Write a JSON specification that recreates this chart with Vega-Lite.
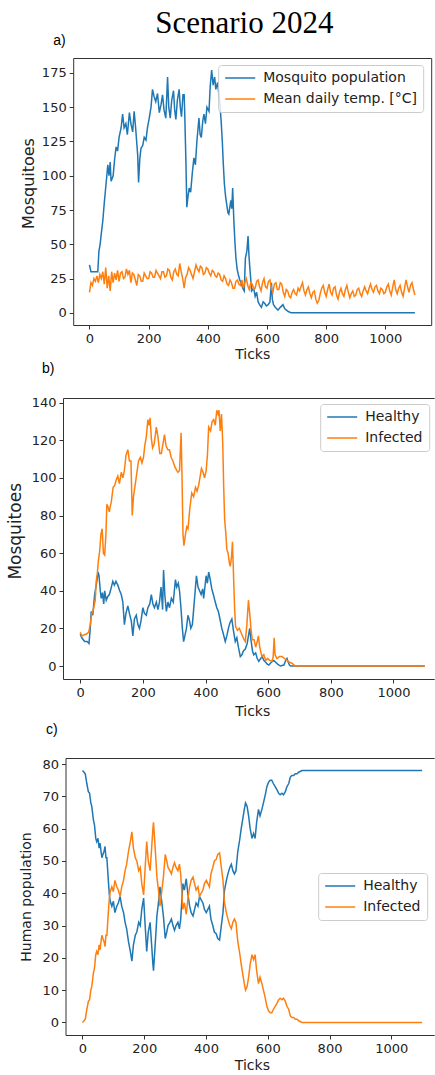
{
"$schema":"https://vega.github.io/schema/vega-lite/v6.json",
"padding":{"left":0,"top":7,"right":0,"bottom":0},
"title":{"text":"Scenario 2024","anchor":"start","frame":"bounds","dx":155,"font":"Liberation Serif","fontSize":31,"fontWeight":"normal","color":"black","baseline":"alphabetic","offset":-29.5},
"spacing":0,
"resolve":{"scale":{"color":"independent","x":"independent","y":"independent"},"legend":{"color":"independent"}},
"config":{"font":"DejaVu Sans","view":{"stroke":null},"axis":{"labelFont":"DejaVu Sans","labelFontSize":13,"labelColor":"#222","tickColor":"#333","tickSize":4,"tickWidth":1,"labelPadding":3,"domain":true,"domainColor":"#333","domainWidth":1,"grid":false,"titleFont":"DejaVu Sans","titleFontWeight":"normal","titleColor":"#222","labelFlush":false,"labelOverlap":false},"title":{"fontWeight":"normal"},"legend":{"orient":"none","title":null,"symbolType":"M-2.5,0H2.5","symbolSize":144,"symbolStrokeWidth":1.5,"symbolOffset":9,"labelOffset":16,"padding":6,"rowPadding":7,"fillColor":"rgba(255,255,255,0.8)","strokeColor":"#cccccc","cornerRadius":3,"labelFont":"DejaVu Sans","labelFontSize":14,"labelColor":"#222"}},
"datasets":{
"a":[
{"tick":0,"value":35,"series":"Mosquito population"},{"tick":5,"value":30,"series":"Mosquito population"},{"tick":28,"value":30,"series":"Mosquito population"},{"tick":32,"value":45,"series":"Mosquito population"},{"tick":36,"value":50,"series":"Mosquito population"},{"tick":40,"value":58,"series":"Mosquito population"},{"tick":45,"value":67,"series":"Mosquito population"},{"tick":50,"value":80,"series":"Mosquito population"},{"tick":56,"value":94,"series":"Mosquito population"},{"tick":62,"value":108,"series":"Mosquito population"},{"tick":66,"value":100,"series":"Mosquito population"},{"tick":70,"value":110,"series":"Mosquito population"},{"tick":73,"value":96,"series":"Mosquito population"},{"tick":80,"value":100,"series":"Mosquito population"},{"tick":85,"value":112,"series":"Mosquito population"},{"tick":90,"value":121,"series":"Mosquito population"},{"tick":95,"value":118,"series":"Mosquito population"},{"tick":100,"value":128,"series":"Mosquito population"},{"tick":107,"value":135,"series":"Mosquito population"},{"tick":112,"value":145,"series":"Mosquito population"},{"tick":117,"value":135,"series":"Mosquito population"},{"tick":123,"value":138,"series":"Mosquito population"},{"tick":128,"value":130,"series":"Mosquito population"},{"tick":135,"value":146,"series":"Mosquito population"},{"tick":140,"value":138,"series":"Mosquito population"},{"tick":146,"value":132,"series":"Mosquito population"},{"tick":151,"value":147,"series":"Mosquito population"},{"tick":156,"value":135,"series":"Mosquito population"},{"tick":163,"value":115,"series":"Mosquito population"},{"tick":166,"value":95,"series":"Mosquito population"},{"tick":170,"value":112,"series":"Mosquito population"},{"tick":174,"value":120,"series":"Mosquito population"},{"tick":180,"value":122,"series":"Mosquito population"},{"tick":185,"value":128,"series":"Mosquito population"},{"tick":191,"value":126,"series":"Mosquito population"},{"tick":196,"value":135,"series":"Mosquito population"},{"tick":202,"value":142,"series":"Mosquito population"},{"tick":208,"value":150,"series":"Mosquito population"},{"tick":213,"value":163,"series":"Mosquito population"},{"tick":218,"value":158,"series":"Mosquito population"},{"tick":224,"value":154,"series":"Mosquito population"},{"tick":230,"value":160,"series":"Mosquito population"},{"tick":236,"value":146,"series":"Mosquito population"},{"tick":242,"value":152,"series":"Mosquito population"},{"tick":247,"value":159,"series":"Mosquito population"},{"tick":252,"value":148,"series":"Mosquito population"},{"tick":258,"value":142,"series":"Mosquito population"},{"tick":264,"value":172,"series":"Mosquito population"},{"tick":268,"value":150,"series":"Mosquito population"},{"tick":273,"value":142,"series":"Mosquito population"},{"tick":278,"value":155,"series":"Mosquito population"},{"tick":284,"value":162,"series":"Mosquito population"},{"tick":288,"value":148,"series":"Mosquito population"},{"tick":292,"value":141,"series":"Mosquito population"},{"tick":297,"value":155,"series":"Mosquito population"},{"tick":303,"value":163,"series":"Mosquito population"},{"tick":307,"value":150,"series":"Mosquito population"},{"tick":311,"value":143,"series":"Mosquito population"},{"tick":316,"value":159,"series":"Mosquito population"},{"tick":320,"value":159,"series":"Mosquito population"},{"tick":322,"value":145,"series":"Mosquito population"},{"tick":326,"value":110,"series":"Mosquito population"},{"tick":329,"value":77,"series":"Mosquito population"},{"tick":333,"value":85,"series":"Mosquito population"},{"tick":337,"value":91,"series":"Mosquito population"},{"tick":342,"value":88,"series":"Mosquito population"},{"tick":348,"value":103,"series":"Mosquito population"},{"tick":353,"value":113,"series":"Mosquito population"},{"tick":358,"value":108,"series":"Mosquito population"},{"tick":363,"value":125,"series":"Mosquito population"},{"tick":370,"value":142,"series":"Mosquito population"},{"tick":374,"value":130,"series":"Mosquito population"},{"tick":378,"value":128,"series":"Mosquito population"},{"tick":383,"value":140,"series":"Mosquito population"},{"tick":387,"value":145,"series":"Mosquito population"},{"tick":392,"value":138,"series":"Mosquito population"},{"tick":397,"value":150,"series":"Mosquito population"},{"tick":404,"value":147,"series":"Mosquito population"},{"tick":408,"value":165,"series":"Mosquito population"},{"tick":413,"value":177,"series":"Mosquito population"},{"tick":418,"value":166,"series":"Mosquito population"},{"tick":423,"value":172,"series":"Mosquito population"},{"tick":427,"value":163,"series":"Mosquito population"},{"tick":433,"value":168,"series":"Mosquito population"},{"tick":437,"value":160,"series":"Mosquito population"},{"tick":441,"value":152,"series":"Mosquito population"},{"tick":445,"value":140,"series":"Mosquito population"},{"tick":449,"value":125,"series":"Mosquito population"},{"tick":452,"value":110,"series":"Mosquito population"},{"tick":456,"value":94,"series":"Mosquito population"},{"tick":460,"value":85,"series":"Mosquito population"},{"tick":464,"value":79,"series":"Mosquito population"},{"tick":468,"value":73,"series":"Mosquito population"},{"tick":471,"value":72,"series":"Mosquito population"},{"tick":475,"value":78,"series":"Mosquito population"},{"tick":478,"value":82,"series":"Mosquito population"},{"tick":481,"value":76,"series":"Mosquito population"},{"tick":484,"value":91,"series":"Mosquito population"},{"tick":488,"value":67,"series":"Mosquito population"},{"tick":492,"value":50,"series":"Mosquito population"},{"tick":495,"value":40,"series":"Mosquito population"},{"tick":499,"value":32,"series":"Mosquito population"},{"tick":503,"value":28,"series":"Mosquito population"},{"tick":508,"value":24,"series":"Mosquito population"},{"tick":514,"value":21,"series":"Mosquito population"},{"tick":518,"value":18,"series":"Mosquito population"},{"tick":523,"value":16,"series":"Mosquito population"},{"tick":527,"value":40,"series":"Mosquito population"},{"tick":532,"value":45,"series":"Mosquito population"},{"tick":536,"value":56,"series":"Mosquito population"},{"tick":539,"value":42,"series":"Mosquito population"},{"tick":542,"value":33,"series":"Mosquito population"},{"tick":548,"value":16,"series":"Mosquito population"},{"tick":555,"value":18,"series":"Mosquito population"},{"tick":560,"value":12,"series":"Mosquito population"},{"tick":565,"value":15,"series":"Mosquito population"},{"tick":570,"value":8,"series":"Mosquito population"},{"tick":575,"value":6,"series":"Mosquito population"},{"tick":581,"value":4,"series":"Mosquito population"},{"tick":587,"value":8,"series":"Mosquito population"},{"tick":592,"value":7,"series":"Mosquito population"},{"tick":598,"value":5,"series":"Mosquito population"},{"tick":604,"value":6,"series":"Mosquito population"},{"tick":610,"value":8,"series":"Mosquito population"},{"tick":615,"value":22,"series":"Mosquito population"},{"tick":618,"value":10,"series":"Mosquito population"},{"tick":622,"value":6,"series":"Mosquito population"},{"tick":628,"value":4,"series":"Mosquito population"},{"tick":637,"value":2,"series":"Mosquito population"},{"tick":645,"value":4,"series":"Mosquito population"},{"tick":654,"value":6,"series":"Mosquito population"},{"tick":660,"value":3,"series":"Mosquito population"},{"tick":666,"value":2,"series":"Mosquito population"},{"tick":672,"value":1,"series":"Mosquito population"},{"tick":682,"value":0,"series":"Mosquito population"},{"tick":1100,"value":0,"series":"Mosquito population"},
{"tick":0,"value":15,"series":"Mean daily temp. [°C]"},{"tick":5,"value":22,"series":"Mean daily temp. [°C]"},{"tick":10,"value":20,"series":"Mean daily temp. [°C]"},{"tick":15,"value":25,"series":"Mean daily temp. [°C]"},{"tick":20,"value":23,"series":"Mean daily temp. [°C]"},{"tick":25,"value":27,"series":"Mean daily temp. [°C]"},{"tick":30,"value":22,"series":"Mean daily temp. [°C]"},{"tick":35,"value":28,"series":"Mean daily temp. [°C]"},{"tick":40,"value":25,"series":"Mean daily temp. [°C]"},{"tick":45,"value":30,"series":"Mean daily temp. [°C]"},{"tick":50,"value":21,"series":"Mean daily temp. [°C]"},{"tick":55,"value":33,"series":"Mean daily temp. [°C]"},{"tick":60,"value":18,"series":"Mean daily temp. [°C]"},{"tick":65,"value":27,"series":"Mean daily temp. [°C]"},{"tick":70,"value":16,"series":"Mean daily temp. [°C]"},{"tick":75,"value":30,"series":"Mean daily temp. [°C]"},{"tick":80,"value":22,"series":"Mean daily temp. [°C]"},{"tick":85,"value":29,"series":"Mean daily temp. [°C]"},{"tick":90,"value":24,"series":"Mean daily temp. [°C]"},{"tick":95,"value":31,"series":"Mean daily temp. [°C]"},{"tick":100,"value":23,"series":"Mean daily temp. [°C]"},{"tick":105,"value":29,"series":"Mean daily temp. [°C]"},{"tick":110,"value":30,"series":"Mean daily temp. [°C]"},{"tick":115,"value":25,"series":"Mean daily temp. [°C]"},{"tick":120,"value":26,"series":"Mean daily temp. [°C]"},{"tick":125,"value":32,"series":"Mean daily temp. [°C]"},{"tick":130,"value":28,"series":"Mean daily temp. [°C]"},{"tick":135,"value":31,"series":"Mean daily temp. [°C]"},{"tick":140,"value":22,"series":"Mean daily temp. [°C]"},{"tick":145,"value":29,"series":"Mean daily temp. [°C]"},{"tick":150,"value":28,"series":"Mean daily temp. [°C]"},{"tick":155,"value":24,"series":"Mean daily temp. [°C]"},{"tick":160,"value":20,"series":"Mean daily temp. [°C]"},{"tick":165,"value":28,"series":"Mean daily temp. [°C]"},{"tick":170,"value":27,"series":"Mean daily temp. [°C]"},{"tick":175,"value":23,"series":"Mean daily temp. [°C]"},{"tick":180,"value":23,"series":"Mean daily temp. [°C]"},{"tick":185,"value":29,"series":"Mean daily temp. [°C]"},{"tick":190,"value":27,"series":"Mean daily temp. [°C]"},{"tick":195,"value":25,"series":"Mean daily temp. [°C]"},{"tick":200,"value":25,"series":"Mean daily temp. [°C]"},{"tick":205,"value":30,"series":"Mean daily temp. [°C]"},{"tick":210,"value":29,"series":"Mean daily temp. [°C]"},{"tick":215,"value":26,"series":"Mean daily temp. [°C]"},{"tick":220,"value":26,"series":"Mean daily temp. [°C]"},{"tick":225,"value":31,"series":"Mean daily temp. [°C]"},{"tick":230,"value":29,"series":"Mean daily temp. [°C]"},{"tick":235,"value":27,"series":"Mean daily temp. [°C]"},{"tick":240,"value":25,"series":"Mean daily temp. [°C]"},{"tick":245,"value":30,"series":"Mean daily temp. [°C]"},{"tick":250,"value":30,"series":"Mean daily temp. [°C]"},{"tick":255,"value":26,"series":"Mean daily temp. [°C]"},{"tick":260,"value":27,"series":"Mean daily temp. [°C]"},{"tick":265,"value":32,"series":"Mean daily temp. [°C]"},{"tick":270,"value":31,"series":"Mean daily temp. [°C]"},{"tick":275,"value":26,"series":"Mean daily temp. [°C]"},{"tick":280,"value":24,"series":"Mean daily temp. [°C]"},{"tick":285,"value":30,"series":"Mean daily temp. [°C]"},{"tick":290,"value":32,"series":"Mean daily temp. [°C]"},{"tick":295,"value":28,"series":"Mean daily temp. [°C]"},{"tick":300,"value":27,"series":"Mean daily temp. [°C]"},{"tick":305,"value":36,"series":"Mean daily temp. [°C]"},{"tick":310,"value":30,"series":"Mean daily temp. [°C]"},{"tick":315,"value":25,"series":"Mean daily temp. [°C]"},{"tick":320,"value":18,"series":"Mean daily temp. [°C]"},{"tick":325,"value":26,"series":"Mean daily temp. [°C]"},{"tick":330,"value":28,"series":"Mean daily temp. [°C]"},{"tick":335,"value":33,"series":"Mean daily temp. [°C]"},{"tick":340,"value":31,"series":"Mean daily temp. [°C]"},{"tick":345,"value":28,"series":"Mean daily temp. [°C]"},{"tick":350,"value":25,"series":"Mean daily temp. [°C]"},{"tick":355,"value":30,"series":"Mean daily temp. [°C]"},{"tick":360,"value":35,"series":"Mean daily temp. [°C]"},{"tick":365,"value":32,"series":"Mean daily temp. [°C]"},{"tick":370,"value":30,"series":"Mean daily temp. [°C]"},{"tick":375,"value":34,"series":"Mean daily temp. [°C]"},{"tick":380,"value":33,"series":"Mean daily temp. [°C]"},{"tick":385,"value":28,"series":"Mean daily temp. [°C]"},{"tick":390,"value":29,"series":"Mean daily temp. [°C]"},{"tick":395,"value":33,"series":"Mean daily temp. [°C]"},{"tick":400,"value":32,"series":"Mean daily temp. [°C]"},{"tick":405,"value":29,"series":"Mean daily temp. [°C]"},{"tick":410,"value":27,"series":"Mean daily temp. [°C]"},{"tick":415,"value":31,"series":"Mean daily temp. [°C]"},{"tick":420,"value":30,"series":"Mean daily temp. [°C]"},{"tick":425,"value":27,"series":"Mean daily temp. [°C]"},{"tick":430,"value":26,"series":"Mean daily temp. [°C]"},{"tick":435,"value":29,"series":"Mean daily temp. [°C]"},{"tick":440,"value":28,"series":"Mean daily temp. [°C]"},{"tick":445,"value":24,"series":"Mean daily temp. [°C]"},{"tick":450,"value":23,"series":"Mean daily temp. [°C]"},{"tick":455,"value":27,"series":"Mean daily temp. [°C]"},{"tick":460,"value":25,"series":"Mean daily temp. [°C]"},{"tick":465,"value":21,"series":"Mean daily temp. [°C]"},{"tick":470,"value":20,"series":"Mean daily temp. [°C]"},{"tick":475,"value":24,"series":"Mean daily temp. [°C]"},{"tick":480,"value":22,"series":"Mean daily temp. [°C]"},{"tick":485,"value":18,"series":"Mean daily temp. [°C]"},{"tick":490,"value":18,"series":"Mean daily temp. [°C]"},{"tick":495,"value":23,"series":"Mean daily temp. [°C]"},{"tick":500,"value":24,"series":"Mean daily temp. [°C]"},{"tick":505,"value":21,"series":"Mean daily temp. [°C]"},{"tick":510,"value":20,"series":"Mean daily temp. [°C]"},{"tick":515,"value":24,"series":"Mean daily temp. [°C]"},{"tick":520,"value":18,"series":"Mean daily temp. [°C]"},{"tick":525,"value":22,"series":"Mean daily temp. [°C]"},{"tick":530,"value":25,"series":"Mean daily temp. [°C]"},{"tick":535,"value":20,"series":"Mean daily temp. [°C]"},{"tick":540,"value":17,"series":"Mean daily temp. [°C]"},{"tick":545,"value":22,"series":"Mean daily temp. [°C]"},{"tick":550,"value":21,"series":"Mean daily temp. [°C]"},{"tick":555,"value":17,"series":"Mean daily temp. [°C]"},{"tick":560,"value":18,"series":"Mean daily temp. [°C]"},{"tick":565,"value":23,"series":"Mean daily temp. [°C]"},{"tick":570,"value":24,"series":"Mean daily temp. [°C]"},{"tick":575,"value":19,"series":"Mean daily temp. [°C]"},{"tick":580,"value":16,"series":"Mean daily temp. [°C]"},{"tick":585,"value":22,"series":"Mean daily temp. [°C]"},{"tick":590,"value":25,"series":"Mean daily temp. [°C]"},{"tick":595,"value":19,"series":"Mean daily temp. [°C]"},{"tick":600,"value":18,"series":"Mean daily temp. [°C]"},{"tick":605,"value":23,"series":"Mean daily temp. [°C]"},{"tick":610,"value":24,"series":"Mean daily temp. [°C]"},{"tick":615,"value":18,"series":"Mean daily temp. [°C]"},{"tick":620,"value":15,"series":"Mean daily temp. [°C]"},{"tick":625,"value":21,"series":"Mean daily temp. [°C]"},{"tick":630,"value":22,"series":"Mean daily temp. [°C]"},{"tick":635,"value":17,"series":"Mean daily temp. [°C]"},{"tick":640,"value":17,"series":"Mean daily temp. [°C]"},{"tick":645,"value":22,"series":"Mean daily temp. [°C]"},{"tick":650,"value":21,"series":"Mean daily temp. [°C]"},{"tick":655,"value":15,"series":"Mean daily temp. [°C]"},{"tick":660,"value":12,"series":"Mean daily temp. [°C]"},{"tick":665,"value":17,"series":"Mean daily temp. [°C]"},{"tick":670,"value":16,"series":"Mean daily temp. [°C]"},{"tick":675,"value":12,"series":"Mean daily temp. [°C]"},{"tick":680,"value":11,"series":"Mean daily temp. [°C]"},{"tick":685,"value":15,"series":"Mean daily temp. [°C]"},{"tick":690,"value":17,"series":"Mean daily temp. [°C]"},{"tick":695,"value":14,"series":"Mean daily temp. [°C]"},{"tick":700,"value":13,"series":"Mean daily temp. [°C]"},{"tick":705,"value":18,"series":"Mean daily temp. [°C]"},{"tick":710,"value":16,"series":"Mean daily temp. [°C]"},{"tick":715,"value":19,"series":"Mean daily temp. [°C]"},{"tick":720,"value":22,"series":"Mean daily temp. [°C]"},{"tick":725,"value":16,"series":"Mean daily temp. [°C]"},{"tick":730,"value":13,"series":"Mean daily temp. [°C]"},{"tick":735,"value":17,"series":"Mean daily temp. [°C]"},{"tick":740,"value":19,"series":"Mean daily temp. [°C]"},{"tick":745,"value":14,"series":"Mean daily temp. [°C]"},{"tick":750,"value":11,"series":"Mean daily temp. [°C]"},{"tick":755,"value":15,"series":"Mean daily temp. [°C]"},{"tick":760,"value":16,"series":"Mean daily temp. [°C]"},{"tick":765,"value":10,"series":"Mean daily temp. [°C]"},{"tick":770,"value":7,"series":"Mean daily temp. [°C]"},{"tick":775,"value":9,"series":"Mean daily temp. [°C]"},{"tick":780,"value":14,"series":"Mean daily temp. [°C]"},{"tick":785,"value":18,"series":"Mean daily temp. [°C]"},{"tick":790,"value":20,"series":"Mean daily temp. [°C]"},{"tick":795,"value":15,"series":"Mean daily temp. [°C]"},{"tick":800,"value":12,"series":"Mean daily temp. [°C]"},{"tick":805,"value":17,"series":"Mean daily temp. [°C]"},{"tick":810,"value":21,"series":"Mean daily temp. [°C]"},{"tick":815,"value":15,"series":"Mean daily temp. [°C]"},{"tick":820,"value":13,"series":"Mean daily temp. [°C]"},{"tick":825,"value":18,"series":"Mean daily temp. [°C]"},{"tick":830,"value":19,"series":"Mean daily temp. [°C]"},{"tick":835,"value":13,"series":"Mean daily temp. [°C]"},{"tick":840,"value":10,"series":"Mean daily temp. [°C]"},{"tick":845,"value":15,"series":"Mean daily temp. [°C]"},{"tick":850,"value":18,"series":"Mean daily temp. [°C]"},{"tick":855,"value":14,"series":"Mean daily temp. [°C]"},{"tick":860,"value":12,"series":"Mean daily temp. [°C]"},{"tick":865,"value":17,"series":"Mean daily temp. [°C]"},{"tick":870,"value":20,"series":"Mean daily temp. [°C]"},{"tick":875,"value":15,"series":"Mean daily temp. [°C]"},{"tick":880,"value":11,"series":"Mean daily temp. [°C]"},{"tick":885,"value":14,"series":"Mean daily temp. [°C]"},{"tick":890,"value":16,"series":"Mean daily temp. [°C]"},{"tick":895,"value":12,"series":"Mean daily temp. [°C]"},{"tick":900,"value":13,"series":"Mean daily temp. [°C]"},{"tick":905,"value":17,"series":"Mean daily temp. [°C]"},{"tick":910,"value":18,"series":"Mean daily temp. [°C]"},{"tick":915,"value":14,"series":"Mean daily temp. [°C]"},{"tick":920,"value":12,"series":"Mean daily temp. [°C]"},{"tick":925,"value":16,"series":"Mean daily temp. [°C]"},{"tick":930,"value":19,"series":"Mean daily temp. [°C]"},{"tick":935,"value":16,"series":"Mean daily temp. [°C]"},{"tick":940,"value":14,"series":"Mean daily temp. [°C]"},{"tick":945,"value":18,"series":"Mean daily temp. [°C]"},{"tick":950,"value":21,"series":"Mean daily temp. [°C]"},{"tick":955,"value":17,"series":"Mean daily temp. [°C]"},{"tick":960,"value":15,"series":"Mean daily temp. [°C]"},{"tick":965,"value":19,"series":"Mean daily temp. [°C]"},{"tick":970,"value":20,"series":"Mean daily temp. [°C]"},{"tick":975,"value":16,"series":"Mean daily temp. [°C]"},{"tick":980,"value":14,"series":"Mean daily temp. [°C]"},{"tick":985,"value":18,"series":"Mean daily temp. [°C]"},{"tick":990,"value":17,"series":"Mean daily temp. [°C]"},{"tick":995,"value":14,"series":"Mean daily temp. [°C]"},{"tick":1000,"value":15,"series":"Mean daily temp. [°C]"},{"tick":1005,"value":19,"series":"Mean daily temp. [°C]"},{"tick":1010,"value":21,"series":"Mean daily temp. [°C]"},{"tick":1015,"value":16,"series":"Mean daily temp. [°C]"},{"tick":1020,"value":13,"series":"Mean daily temp. [°C]"},{"tick":1025,"value":19,"series":"Mean daily temp. [°C]"},{"tick":1030,"value":24,"series":"Mean daily temp. [°C]"},{"tick":1035,"value":17,"series":"Mean daily temp. [°C]"},{"tick":1040,"value":14,"series":"Mean daily temp. [°C]"},{"tick":1045,"value":18,"series":"Mean daily temp. [°C]"},{"tick":1050,"value":20,"series":"Mean daily temp. [°C]"},{"tick":1055,"value":15,"series":"Mean daily temp. [°C]"},{"tick":1060,"value":12,"series":"Mean daily temp. [°C]"},{"tick":1065,"value":18,"series":"Mean daily temp. [°C]"},{"tick":1070,"value":24,"series":"Mean daily temp. [°C]"},{"tick":1075,"value":19,"series":"Mean daily temp. [°C]"},{"tick":1080,"value":15,"series":"Mean daily temp. [°C]"},{"tick":1085,"value":20,"series":"Mean daily temp. [°C]"},{"tick":1090,"value":22,"series":"Mean daily temp. [°C]"},{"tick":1095,"value":17,"series":"Mean daily temp. [°C]"},{"tick":1100,"value":13,"series":"Mean daily temp. [°C]"}
],
"b":[
{"tick":0,"value":17,"series":"Healthy"},{"tick":5,"value":15,"series":"Healthy"},{"tick":14,"value":13,"series":"Healthy"},{"tick":22,"value":13,"series":"Healthy"},{"tick":28,"value":12,"series":"Healthy"},{"tick":32,"value":20,"series":"Healthy"},{"tick":35,"value":29,"series":"Healthy"},{"tick":40,"value":27,"series":"Healthy"},{"tick":46,"value":38,"series":"Healthy"},{"tick":50,"value":42,"series":"Healthy"},{"tick":53,"value":45,"series":"Healthy"},{"tick":57,"value":50,"series":"Healthy"},{"tick":60,"value":48,"series":"Healthy"},{"tick":64,"value":40,"series":"Healthy"},{"tick":67,"value":36,"series":"Healthy"},{"tick":71,"value":39,"series":"Healthy"},{"tick":75,"value":33,"series":"Healthy"},{"tick":78,"value":40,"series":"Healthy"},{"tick":83,"value":35,"series":"Healthy"},{"tick":88,"value":37,"series":"Healthy"},{"tick":93,"value":38,"series":"Healthy"},{"tick":98,"value":41,"series":"Healthy"},{"tick":104,"value":45,"series":"Healthy"},{"tick":109,"value":43,"series":"Healthy"},{"tick":114,"value":45,"series":"Healthy"},{"tick":120,"value":43,"series":"Healthy"},{"tick":126,"value":40,"series":"Healthy"},{"tick":131,"value":38,"series":"Healthy"},{"tick":136,"value":34,"series":"Healthy"},{"tick":141,"value":22,"series":"Healthy"},{"tick":146,"value":28,"series":"Healthy"},{"tick":152,"value":32,"series":"Healthy"},{"tick":157,"value":28,"series":"Healthy"},{"tick":163,"value":24,"series":"Healthy"},{"tick":168,"value":16,"series":"Healthy"},{"tick":173,"value":25,"series":"Healthy"},{"tick":179,"value":27,"series":"Healthy"},{"tick":184,"value":22,"series":"Healthy"},{"tick":189,"value":20,"series":"Healthy"},{"tick":194,"value":24,"series":"Healthy"},{"tick":200,"value":31,"series":"Healthy"},{"tick":205,"value":28,"series":"Healthy"},{"tick":211,"value":27,"series":"Healthy"},{"tick":216,"value":31,"series":"Healthy"},{"tick":222,"value":33,"series":"Healthy"},{"tick":227,"value":38,"series":"Healthy"},{"tick":232,"value":33,"series":"Healthy"},{"tick":237,"value":31,"series":"Healthy"},{"tick":243,"value":34,"series":"Healthy"},{"tick":248,"value":30,"series":"Healthy"},{"tick":253,"value":34,"series":"Healthy"},{"tick":258,"value":42,"series":"Healthy"},{"tick":263,"value":30,"series":"Healthy"},{"tick":266,"value":51,"series":"Healthy"},{"tick":270,"value":38,"series":"Healthy"},{"tick":275,"value":29,"series":"Healthy"},{"tick":280,"value":34,"series":"Healthy"},{"tick":285,"value":31,"series":"Healthy"},{"tick":291,"value":36,"series":"Healthy"},{"tick":297,"value":34,"series":"Healthy"},{"tick":304,"value":46,"series":"Healthy"},{"tick":308,"value":42,"series":"Healthy"},{"tick":313,"value":44,"series":"Healthy"},{"tick":317,"value":40,"series":"Healthy"},{"tick":322,"value":30,"series":"Healthy"},{"tick":326,"value":20,"series":"Healthy"},{"tick":330,"value":13,"series":"Healthy"},{"tick":334,"value":16,"series":"Healthy"},{"tick":339,"value":20,"series":"Healthy"},{"tick":344,"value":27,"series":"Healthy"},{"tick":349,"value":24,"series":"Healthy"},{"tick":353,"value":20,"series":"Healthy"},{"tick":358,"value":22,"series":"Healthy"},{"tick":362,"value":30,"series":"Healthy"},{"tick":367,"value":40,"series":"Healthy"},{"tick":371,"value":48,"series":"Healthy"},{"tick":376,"value":42,"series":"Healthy"},{"tick":381,"value":40,"series":"Healthy"},{"tick":386,"value":38,"series":"Healthy"},{"tick":391,"value":41,"series":"Healthy"},{"tick":394,"value":36,"series":"Healthy"},{"tick":398,"value":42,"series":"Healthy"},{"tick":402,"value":48,"series":"Healthy"},{"tick":406,"value":44,"series":"Healthy"},{"tick":410,"value":50,"series":"Healthy"},{"tick":415,"value":46,"series":"Healthy"},{"tick":420,"value":41,"series":"Healthy"},{"tick":425,"value":38,"series":"Healthy"},{"tick":431,"value":34,"series":"Healthy"},{"tick":436,"value":31,"series":"Healthy"},{"tick":441,"value":29,"series":"Healthy"},{"tick":446,"value":25,"series":"Healthy"},{"tick":452,"value":20,"series":"Healthy"},{"tick":457,"value":17,"series":"Healthy"},{"tick":463,"value":13,"series":"Healthy"},{"tick":468,"value":16,"series":"Healthy"},{"tick":473,"value":20,"series":"Healthy"},{"tick":478,"value":23,"series":"Healthy"},{"tick":484,"value":25,"series":"Healthy"},{"tick":489,"value":19,"series":"Healthy"},{"tick":495,"value":13,"series":"Healthy"},{"tick":500,"value":15,"series":"Healthy"},{"tick":505,"value":10,"series":"Healthy"},{"tick":511,"value":5,"series":"Healthy"},{"tick":516,"value":6,"series":"Healthy"},{"tick":521,"value":8,"series":"Healthy"},{"tick":527,"value":9,"series":"Healthy"},{"tick":533,"value":12,"series":"Healthy"},{"tick":537,"value":16,"series":"Healthy"},{"tick":541,"value":20,"series":"Healthy"},{"tick":545,"value":14,"series":"Healthy"},{"tick":550,"value":8,"series":"Healthy"},{"tick":554,"value":6,"series":"Healthy"},{"tick":560,"value":7,"series":"Healthy"},{"tick":565,"value":4,"series":"Healthy"},{"tick":570,"value":2.5,"series":"Healthy"},{"tick":576,"value":4,"series":"Healthy"},{"tick":581,"value":5,"series":"Healthy"},{"tick":586,"value":3,"series":"Healthy"},{"tick":592,"value":2,"series":"Healthy"},{"tick":597,"value":1,"series":"Healthy"},{"tick":602,"value":0.5,"series":"Healthy"},{"tick":610,"value":2,"series":"Healthy"},{"tick":618,"value":3,"series":"Healthy"},{"tick":624,"value":2,"series":"Healthy"},{"tick":630,"value":1,"series":"Healthy"},{"tick":639,"value":0,"series":"Healthy"},{"tick":650,"value":0.5,"series":"Healthy"},{"tick":656,"value":3,"series":"Healthy"},{"tick":660,"value":4,"series":"Healthy"},{"tick":664,"value":2,"series":"Healthy"},{"tick":668,"value":0.5,"series":"Healthy"},{"tick":672,"value":0,"series":"Healthy"},{"tick":1100,"value":0,"series":"Healthy"},
{"tick":0,"value":18,"series":"Infected"},{"tick":5,"value":16,"series":"Infected"},{"tick":11,"value":16.5,"series":"Infected"},{"tick":20,"value":17,"series":"Infected"},{"tick":27,"value":18,"series":"Infected"},{"tick":32,"value":22,"series":"Infected"},{"tick":37,"value":28,"series":"Infected"},{"tick":42,"value":30,"series":"Infected"},{"tick":48,"value":35,"series":"Infected"},{"tick":51,"value":45,"series":"Infected"},{"tick":55,"value":50,"series":"Infected"},{"tick":58,"value":56,"series":"Infected"},{"tick":62,"value":61,"series":"Infected"},{"tick":66,"value":70,"series":"Infected"},{"tick":70,"value":73,"series":"Infected"},{"tick":74,"value":60,"series":"Infected"},{"tick":78,"value":59,"series":"Infected"},{"tick":82,"value":70,"series":"Infected"},{"tick":85,"value":86,"series":"Infected"},{"tick":88,"value":85,"series":"Infected"},{"tick":93,"value":82,"series":"Infected"},{"tick":96,"value":85,"series":"Infected"},{"tick":99,"value":87,"series":"Infected"},{"tick":105,"value":95,"series":"Infected"},{"tick":110,"value":96,"series":"Infected"},{"tick":115,"value":99,"series":"Infected"},{"tick":120,"value":101,"series":"Infected"},{"tick":125,"value":97,"series":"Infected"},{"tick":131,"value":103,"series":"Infected"},{"tick":136,"value":100,"series":"Infected"},{"tick":141,"value":104,"series":"Infected"},{"tick":146,"value":112,"series":"Infected"},{"tick":152,"value":115,"series":"Infected"},{"tick":157,"value":109,"series":"Infected"},{"tick":162,"value":109,"series":"Infected"},{"tick":166,"value":80,"series":"Infected"},{"tick":170,"value":90,"series":"Infected"},{"tick":176,"value":97,"series":"Infected"},{"tick":181,"value":103,"series":"Infected"},{"tick":186,"value":109,"series":"Infected"},{"tick":192,"value":111,"series":"Infected"},{"tick":197,"value":108,"series":"Infected"},{"tick":202,"value":111,"series":"Infected"},{"tick":206,"value":117,"series":"Infected"},{"tick":211,"value":122,"series":"Infected"},{"tick":216,"value":131,"series":"Infected"},{"tick":220,"value":128,"series":"Infected"},{"tick":223,"value":132,"series":"Infected"},{"tick":227,"value":121,"series":"Infected"},{"tick":231,"value":116,"series":"Infected"},{"tick":236,"value":118,"series":"Infected"},{"tick":243,"value":127,"series":"Infected"},{"tick":248,"value":122,"series":"Infected"},{"tick":254,"value":113,"series":"Infected"},{"tick":259,"value":113,"series":"Infected"},{"tick":264,"value":118,"series":"Infected"},{"tick":269,"value":123,"series":"Infected"},{"tick":274,"value":117,"series":"Infected"},{"tick":280,"value":115,"series":"Infected"},{"tick":285,"value":115,"series":"Infected"},{"tick":290,"value":111,"series":"Infected"},{"tick":296,"value":109,"series":"Infected"},{"tick":302,"value":106,"series":"Infected"},{"tick":308,"value":104,"series":"Infected"},{"tick":312,"value":103,"series":"Infected"},{"tick":317,"value":104,"series":"Infected"},{"tick":322,"value":124,"series":"Infected"},{"tick":325,"value":100,"series":"Infected"},{"tick":328,"value":70,"series":"Infected"},{"tick":331,"value":64,"series":"Infected"},{"tick":336,"value":70,"series":"Infected"},{"tick":340,"value":74,"series":"Infected"},{"tick":344,"value":73,"series":"Infected"},{"tick":350,"value":84,"series":"Infected"},{"tick":356,"value":92,"series":"Infected"},{"tick":362,"value":90,"series":"Infected"},{"tick":368,"value":95,"series":"Infected"},{"tick":373,"value":93,"series":"Infected"},{"tick":378,"value":96,"series":"Infected"},{"tick":382,"value":100,"series":"Infected"},{"tick":387,"value":105,"series":"Infected"},{"tick":392,"value":103,"series":"Infected"},{"tick":397,"value":100,"series":"Infected"},{"tick":402,"value":104,"series":"Infected"},{"tick":406,"value":112,"series":"Infected"},{"tick":410,"value":127,"series":"Infected"},{"tick":416,"value":125,"series":"Infected"},{"tick":421,"value":130,"series":"Infected"},{"tick":426,"value":131,"series":"Infected"},{"tick":431,"value":128,"series":"Infected"},{"tick":436,"value":136,"series":"Infected"},{"tick":440,"value":134,"series":"Infected"},{"tick":443,"value":136,"series":"Infected"},{"tick":447,"value":125,"series":"Infected"},{"tick":451,"value":134,"series":"Infected"},{"tick":455,"value":118,"series":"Infected"},{"tick":458,"value":95,"series":"Infected"},{"tick":461,"value":78,"series":"Infected"},{"tick":465,"value":70,"series":"Infected"},{"tick":468,"value":62,"series":"Infected"},{"tick":472,"value":60,"series":"Infected"},{"tick":476,"value":55,"series":"Infected"},{"tick":479,"value":53,"series":"Infected"},{"tick":483,"value":58,"series":"Infected"},{"tick":486,"value":66,"series":"Infected"},{"tick":490,"value":45,"series":"Infected"},{"tick":493,"value":30,"series":"Infected"},{"tick":496,"value":21,"series":"Infected"},{"tick":502,"value":19,"series":"Infected"},{"tick":508,"value":20,"series":"Infected"},{"tick":513,"value":18,"series":"Infected"},{"tick":518,"value":16,"series":"Infected"},{"tick":523,"value":14,"series":"Infected"},{"tick":527,"value":13,"series":"Infected"},{"tick":532,"value":22,"series":"Infected"},{"tick":537,"value":35,"series":"Infected"},{"tick":541,"value":28,"series":"Infected"},{"tick":545,"value":20,"series":"Infected"},{"tick":549,"value":14,"series":"Infected"},{"tick":555,"value":14,"series":"Infected"},{"tick":560,"value":10,"series":"Infected"},{"tick":565,"value":13,"series":"Infected"},{"tick":569,"value":16,"series":"Infected"},{"tick":573,"value":10,"series":"Infected"},{"tick":580,"value":5,"series":"Infected"},{"tick":586,"value":6,"series":"Infected"},{"tick":592,"value":3,"series":"Infected"},{"tick":598,"value":4,"series":"Infected"},{"tick":605,"value":3,"series":"Infected"},{"tick":612,"value":2.5,"series":"Infected"},{"tick":616,"value":5,"series":"Infected"},{"tick":619,"value":15,"series":"Infected"},{"tick":622,"value":6,"series":"Infected"},{"tick":628,"value":4,"series":"Infected"},{"tick":636,"value":5,"series":"Infected"},{"tick":644,"value":5,"series":"Infected"},{"tick":652,"value":4,"series":"Infected"},{"tick":660,"value":3,"series":"Infected"},{"tick":668,"value":2,"series":"Infected"},{"tick":676,"value":1.5,"series":"Infected"},{"tick":686,"value":0,"series":"Infected"},{"tick":1100,"value":0,"series":"Infected"}
],
"c":[
{"tick":0,"value":78,"series":"Healthy"},{"tick":5,"value":77.5,"series":"Healthy"},{"tick":9,"value":77,"series":"Healthy"},{"tick":14,"value":74,"series":"Healthy"},{"tick":19,"value":71.5,"series":"Healthy"},{"tick":23,"value":71,"series":"Healthy"},{"tick":27,"value":68,"series":"Healthy"},{"tick":30,"value":67,"series":"Healthy"},{"tick":35,"value":63,"series":"Healthy"},{"tick":39,"value":61,"series":"Healthy"},{"tick":43,"value":57,"series":"Healthy"},{"tick":46,"value":56,"series":"Healthy"},{"tick":50,"value":57,"series":"Healthy"},{"tick":54,"value":54,"series":"Healthy"},{"tick":57,"value":55.5,"series":"Healthy"},{"tick":60,"value":53,"series":"Healthy"},{"tick":63,"value":51,"series":"Healthy"},{"tick":66,"value":52,"series":"Healthy"},{"tick":70,"value":53,"series":"Healthy"},{"tick":73,"value":54.5,"series":"Healthy"},{"tick":76,"value":51,"series":"Healthy"},{"tick":79,"value":51,"series":"Healthy"},{"tick":83,"value":45,"series":"Healthy"},{"tick":87,"value":39.5,"series":"Healthy"},{"tick":90,"value":37.5,"series":"Healthy"},{"tick":95,"value":36,"series":"Healthy"},{"tick":100,"value":37.5,"series":"Healthy"},{"tick":105,"value":34,"series":"Healthy"},{"tick":111,"value":36,"series":"Healthy"},{"tick":116,"value":37,"series":"Healthy"},{"tick":122,"value":39,"series":"Healthy"},{"tick":127,"value":36,"series":"Healthy"},{"tick":133,"value":34,"series":"Healthy"},{"tick":138,"value":31,"series":"Healthy"},{"tick":143,"value":29,"series":"Healthy"},{"tick":149,"value":25,"series":"Healthy"},{"tick":155,"value":22,"series":"Healthy"},{"tick":160,"value":19,"series":"Healthy"},{"tick":165,"value":24,"series":"Healthy"},{"tick":171,"value":27,"series":"Healthy"},{"tick":176,"value":28,"series":"Healthy"},{"tick":182,"value":31,"series":"Healthy"},{"tick":187,"value":30,"series":"Healthy"},{"tick":192,"value":35,"series":"Healthy"},{"tick":198,"value":38.5,"series":"Healthy"},{"tick":203,"value":30,"series":"Healthy"},{"tick":208,"value":22,"series":"Healthy"},{"tick":213,"value":28,"series":"Healthy"},{"tick":219,"value":31,"series":"Healthy"},{"tick":224,"value":24,"series":"Healthy"},{"tick":228,"value":18,"series":"Healthy"},{"tick":230,"value":16,"series":"Healthy"},{"tick":234,"value":22,"series":"Healthy"},{"tick":238,"value":28,"series":"Healthy"},{"tick":241,"value":33,"series":"Healthy"},{"tick":246,"value":37,"series":"Healthy"},{"tick":251,"value":42,"series":"Healthy"},{"tick":256,"value":38,"series":"Healthy"},{"tick":262,"value":33,"series":"Healthy"},{"tick":268,"value":26,"series":"Healthy"},{"tick":273,"value":28,"series":"Healthy"},{"tick":277,"value":30,"series":"Healthy"},{"tick":283,"value":31,"series":"Healthy"},{"tick":288,"value":32,"series":"Healthy"},{"tick":293,"value":30,"series":"Healthy"},{"tick":298,"value":28.5,"series":"Healthy"},{"tick":303,"value":30,"series":"Healthy"},{"tick":309,"value":31,"series":"Healthy"},{"tick":314,"value":29,"series":"Healthy"},{"tick":318,"value":32,"series":"Healthy"},{"tick":322,"value":38,"series":"Healthy"},{"tick":325,"value":43,"series":"Healthy"},{"tick":330,"value":41,"series":"Healthy"},{"tick":336,"value":44.5,"series":"Healthy"},{"tick":341,"value":40,"series":"Healthy"},{"tick":347,"value":36,"series":"Healthy"},{"tick":352,"value":34,"series":"Healthy"},{"tick":358,"value":33,"series":"Healthy"},{"tick":363,"value":35,"series":"Healthy"},{"tick":368,"value":37,"series":"Healthy"},{"tick":374,"value":36,"series":"Healthy"},{"tick":379,"value":39,"series":"Healthy"},{"tick":384,"value":38,"series":"Healthy"},{"tick":390,"value":37,"series":"Healthy"},{"tick":395,"value":35,"series":"Healthy"},{"tick":401,"value":34,"series":"Healthy"},{"tick":406,"value":35,"series":"Healthy"},{"tick":411,"value":36,"series":"Healthy"},{"tick":416,"value":32,"series":"Healthy"},{"tick":422,"value":30,"series":"Healthy"},{"tick":427,"value":28,"series":"Healthy"},{"tick":433,"value":27.5,"series":"Healthy"},{"tick":438,"value":26,"series":"Healthy"},{"tick":444,"value":25.5,"series":"Healthy"},{"tick":449,"value":29.5,"series":"Healthy"},{"tick":455,"value":34,"series":"Healthy"},{"tick":460,"value":41,"series":"Healthy"},{"tick":466,"value":44,"series":"Healthy"},{"tick":471,"value":46,"series":"Healthy"},{"tick":477,"value":48,"series":"Healthy"},{"tick":482,"value":49,"series":"Healthy"},{"tick":487,"value":47,"series":"Healthy"},{"tick":492,"value":46,"series":"Healthy"},{"tick":497,"value":47,"series":"Healthy"},{"tick":503,"value":53,"series":"Healthy"},{"tick":509,"value":56.5,"series":"Healthy"},{"tick":514,"value":60,"series":"Healthy"},{"tick":519,"value":63,"series":"Healthy"},{"tick":524,"value":66,"series":"Healthy"},{"tick":528,"value":68,"series":"Healthy"},{"tick":533,"value":67,"series":"Healthy"},{"tick":538,"value":64,"series":"Healthy"},{"tick":543,"value":60,"series":"Healthy"},{"tick":549,"value":57,"series":"Healthy"},{"tick":554,"value":58.5,"series":"Healthy"},{"tick":559,"value":57,"series":"Healthy"},{"tick":564,"value":62,"series":"Healthy"},{"tick":570,"value":66,"series":"Healthy"},{"tick":575,"value":64,"series":"Healthy"},{"tick":581,"value":66,"series":"Healthy"},{"tick":586,"value":68,"series":"Healthy"},{"tick":592,"value":70.5,"series":"Healthy"},{"tick":597,"value":73,"series":"Healthy"},{"tick":603,"value":74.5,"series":"Healthy"},{"tick":608,"value":75,"series":"Healthy"},{"tick":613,"value":75,"series":"Healthy"},{"tick":618,"value":74,"series":"Healthy"},{"tick":624,"value":73,"series":"Healthy"},{"tick":630,"value":72,"series":"Healthy"},{"tick":635,"value":71,"series":"Healthy"},{"tick":640,"value":70.5,"series":"Healthy"},{"tick":646,"value":71,"series":"Healthy"},{"tick":651,"value":70.5,"series":"Healthy"},{"tick":657,"value":71.5,"series":"Healthy"},{"tick":662,"value":73,"series":"Healthy"},{"tick":668,"value":74,"series":"Healthy"},{"tick":673,"value":76,"series":"Healthy"},{"tick":678,"value":76.5,"series":"Healthy"},{"tick":684,"value":76.5,"series":"Healthy"},{"tick":689,"value":77,"series":"Healthy"},{"tick":695,"value":77,"series":"Healthy"},{"tick":700,"value":77.5,"series":"Healthy"},{"tick":711,"value":78,"series":"Healthy"},{"tick":1100,"value":78,"series":"Healthy"},
{"tick":0,"value":0,"series":"Infected"},{"tick":5,"value":0.5,"series":"Infected"},{"tick":9,"value":1,"series":"Infected"},{"tick":14,"value":4,"series":"Infected"},{"tick":19,"value":6.5,"series":"Infected"},{"tick":23,"value":7,"series":"Infected"},{"tick":27,"value":10,"series":"Infected"},{"tick":30,"value":11,"series":"Infected"},{"tick":35,"value":15,"series":"Infected"},{"tick":39,"value":17,"series":"Infected"},{"tick":43,"value":21,"series":"Infected"},{"tick":46,"value":22,"series":"Infected"},{"tick":50,"value":21,"series":"Infected"},{"tick":54,"value":24,"series":"Infected"},{"tick":57,"value":22.5,"series":"Infected"},{"tick":60,"value":25,"series":"Infected"},{"tick":63,"value":27,"series":"Infected"},{"tick":66,"value":26,"series":"Infected"},{"tick":70,"value":25,"series":"Infected"},{"tick":73,"value":23.5,"series":"Infected"},{"tick":76,"value":27,"series":"Infected"},{"tick":79,"value":27,"series":"Infected"},{"tick":83,"value":33,"series":"Infected"},{"tick":87,"value":38.5,"series":"Infected"},{"tick":90,"value":40.5,"series":"Infected"},{"tick":95,"value":42,"series":"Infected"},{"tick":100,"value":40.5,"series":"Infected"},{"tick":105,"value":44,"series":"Infected"},{"tick":111,"value":42,"series":"Infected"},{"tick":116,"value":41,"series":"Infected"},{"tick":122,"value":39,"series":"Infected"},{"tick":127,"value":42,"series":"Infected"},{"tick":133,"value":44,"series":"Infected"},{"tick":138,"value":47,"series":"Infected"},{"tick":143,"value":49,"series":"Infected"},{"tick":149,"value":53,"series":"Infected"},{"tick":155,"value":56,"series":"Infected"},{"tick":160,"value":59,"series":"Infected"},{"tick":165,"value":54,"series":"Infected"},{"tick":171,"value":51,"series":"Infected"},{"tick":176,"value":50,"series":"Infected"},{"tick":182,"value":47,"series":"Infected"},{"tick":187,"value":48,"series":"Infected"},{"tick":192,"value":43,"series":"Infected"},{"tick":198,"value":39.5,"series":"Infected"},{"tick":203,"value":48,"series":"Infected"},{"tick":208,"value":56,"series":"Infected"},{"tick":213,"value":50,"series":"Infected"},{"tick":219,"value":47,"series":"Infected"},{"tick":224,"value":54,"series":"Infected"},{"tick":228,"value":60,"series":"Infected"},{"tick":230,"value":62,"series":"Infected"},{"tick":234,"value":56,"series":"Infected"},{"tick":238,"value":50,"series":"Infected"},{"tick":241,"value":45,"series":"Infected"},{"tick":246,"value":41,"series":"Infected"},{"tick":251,"value":36,"series":"Infected"},{"tick":256,"value":40,"series":"Infected"},{"tick":262,"value":45,"series":"Infected"},{"tick":268,"value":52,"series":"Infected"},{"tick":273,"value":50,"series":"Infected"},{"tick":277,"value":48,"series":"Infected"},{"tick":283,"value":47,"series":"Infected"},{"tick":288,"value":46,"series":"Infected"},{"tick":293,"value":48,"series":"Infected"},{"tick":298,"value":49.5,"series":"Infected"},{"tick":303,"value":48,"series":"Infected"},{"tick":309,"value":47,"series":"Infected"},{"tick":314,"value":49,"series":"Infected"},{"tick":318,"value":46,"series":"Infected"},{"tick":322,"value":40,"series":"Infected"},{"tick":325,"value":35,"series":"Infected"},{"tick":330,"value":37,"series":"Infected"},{"tick":336,"value":33.5,"series":"Infected"},{"tick":341,"value":38,"series":"Infected"},{"tick":347,"value":42,"series":"Infected"},{"tick":352,"value":44,"series":"Infected"},{"tick":358,"value":45,"series":"Infected"},{"tick":363,"value":43,"series":"Infected"},{"tick":368,"value":41,"series":"Infected"},{"tick":374,"value":42,"series":"Infected"},{"tick":379,"value":39,"series":"Infected"},{"tick":384,"value":40,"series":"Infected"},{"tick":390,"value":41,"series":"Infected"},{"tick":395,"value":43,"series":"Infected"},{"tick":401,"value":44,"series":"Infected"},{"tick":406,"value":43,"series":"Infected"},{"tick":411,"value":42,"series":"Infected"},{"tick":416,"value":46,"series":"Infected"},{"tick":422,"value":48,"series":"Infected"},{"tick":427,"value":50,"series":"Infected"},{"tick":433,"value":50.5,"series":"Infected"},{"tick":438,"value":52,"series":"Infected"},{"tick":444,"value":52.5,"series":"Infected"},{"tick":449,"value":48.5,"series":"Infected"},{"tick":455,"value":44,"series":"Infected"},{"tick":460,"value":37,"series":"Infected"},{"tick":466,"value":34,"series":"Infected"},{"tick":471,"value":32,"series":"Infected"},{"tick":477,"value":30,"series":"Infected"},{"tick":482,"value":29,"series":"Infected"},{"tick":487,"value":31,"series":"Infected"},{"tick":492,"value":32,"series":"Infected"},{"tick":497,"value":31,"series":"Infected"},{"tick":503,"value":25,"series":"Infected"},{"tick":509,"value":21.5,"series":"Infected"},{"tick":514,"value":18,"series":"Infected"},{"tick":519,"value":15,"series":"Infected"},{"tick":524,"value":12,"series":"Infected"},{"tick":528,"value":10,"series":"Infected"},{"tick":533,"value":11,"series":"Infected"},{"tick":538,"value":14,"series":"Infected"},{"tick":543,"value":18,"series":"Infected"},{"tick":549,"value":21,"series":"Infected"},{"tick":554,"value":19.5,"series":"Infected"},{"tick":559,"value":21,"series":"Infected"},{"tick":564,"value":16,"series":"Infected"},{"tick":570,"value":12,"series":"Infected"},{"tick":575,"value":14,"series":"Infected"},{"tick":581,"value":12,"series":"Infected"},{"tick":586,"value":10,"series":"Infected"},{"tick":592,"value":7.5,"series":"Infected"},{"tick":597,"value":5,"series":"Infected"},{"tick":603,"value":3.5,"series":"Infected"},{"tick":608,"value":3,"series":"Infected"},{"tick":613,"value":3,"series":"Infected"},{"tick":618,"value":4,"series":"Infected"},{"tick":624,"value":5,"series":"Infected"},{"tick":630,"value":6,"series":"Infected"},{"tick":635,"value":7,"series":"Infected"},{"tick":640,"value":7.5,"series":"Infected"},{"tick":646,"value":7,"series":"Infected"},{"tick":651,"value":7.5,"series":"Infected"},{"tick":657,"value":6.5,"series":"Infected"},{"tick":662,"value":5,"series":"Infected"},{"tick":668,"value":4,"series":"Infected"},{"tick":673,"value":2,"series":"Infected"},{"tick":678,"value":1.5,"series":"Infected"},{"tick":684,"value":1.5,"series":"Infected"},{"tick":689,"value":1,"series":"Infected"},{"tick":695,"value":1,"series":"Infected"},{"tick":700,"value":0.5,"series":"Infected"},{"tick":711,"value":0,"series":"Infected"},{"tick":1100,"value":0,"series":"Infected"}
]
},
"vconcat":[
{
"width":368.2,"height":267,
"title":{"text":"a)","anchor":"start","frame":"group","dx":-9.8,"offset":-1,"baseline":"alphabetic","font":"Liberation Sans","fontSize":14,"fontWeight":"normal","color":"black"},
"data":{"name":"a"},
"resolve":{"axis":{"x":"independent","y":"independent"}},
"layer":[
{"mark":{"type":"line","strokeWidth":1.5},
"encoding":{
"x":{"field":"tick","type":"quantitative","scale":{"domain":[-55,1155],"range":[10.2,368.2],"nice":false,"zero":false},"axis":{"orient":"bottom","values":[0,200,400,600,800,1000],"format":"d","title":"Ticks","titleFontSize":14,"titleX":189.2,"titleY":33,"titleBaseline":"alphabetic","minExtent":36,"maxExtent":36}},
"y":{"field":"value","type":"quantitative","scale":{"domain":[-8.85,185.85],"nice":false,"zero":false},"axis":{"orient":"left","offset":-10.2,"values":[0,25,50,75,100,125,150,175],"title":"Mosquitoes","titleFontSize":16,"titleX":-40,"titleY":125,"titleBaseline":"alphabetic","minExtent":73,"maxExtent":73}},
"color":{"field":"series","type":"nominal","sort":null,"scale":{"domain":["Mosquito population","Mean daily temp. [°C]"],"range":["#1f77b4","#ff7f0e"]},"legend":{"orient":"none","legendX":155.2,"legendY":7,"title":null,"symbolType":"M-2.5,0H2.5","symbolSize":144,"symbolOffset":9,"labelOffset":16}}
}},
{"mark":{"type":"line","opacity":0},
"encoding":{
"x":{"field":"tick","type":"quantitative","scale":{"domain":[-55,1155],"range":[10.2,368.2],"nice":false,"zero":false},"axis":{"orient":"top","labels":false,"ticks":false,"title":null,"minExtent":0,"maxExtent":0}},
"y":{"field":"value","type":"quantitative","scale":{"domain":[-8.85,185.85],"nice":false,"zero":false},"axis":{"orient":"right","labels":false,"ticks":false,"title":null,"minExtent":0,"maxExtent":0}}
}}
]
},
{
"width":371.2,"height":281,
"title":{"text":"b)","anchor":"start","frame":"group","dx":-21,"offset":10.2,"baseline":"alphabetic","font":"Liberation Sans","fontSize":14,"fontWeight":"normal","color":"black"},
"data":{"name":"b"},
"resolve":{"axis":{"x":"independent"}},
"encoding":{
"y":{"field":"value","type":"quantitative","scale":{"domain":[-6.9,142.5],"nice":false,"zero":false},"axis":{"values":[0,20,40,60,80,100,120,140],"title":"Mosquitoes","titleFontSize":17,"titleX":-43,"titleY":132.8,"titleBaseline":"alphabetic","minExtent":62.8,"maxExtent":62.8}}
},
"layer":[
{"mark":{"type":"line","strokeWidth":1.5},
"encoding":{
"x":{"field":"tick","type":"quantitative","scale":{"domain":[-55,1130],"nice":false,"zero":false},"axis":{"orient":"bottom","values":[0,200,400,600,800,1000],"format":"d","title":"Ticks","titleFontSize":14,"titleX":189.2,"titleY":36.5,"titleBaseline":"alphabetic","minExtent":44,"maxExtent":44}},
"color":{"field":"series","type":"nominal","sort":null,"scale":{"domain":["Healthy","Infected"],"range":["#1f77b4","#ff7f0e"]},"legend":{"orient":"none","legendX":257.2,"legendY":6,"title":null,"symbolType":"M-2.5,0H2.5","symbolSize":144,"symbolOffset":9,"labelOffset":16}}
}},
{"mark":{"type":"line","opacity":0},
"encoding":{
"x":{"field":"tick","type":"quantitative","scale":{"domain":[-55,1130],"nice":false,"zero":false},"axis":{"orient":"top","labels":false,"ticks":false,"title":null,"minExtent":0,"maxExtent":0}}
}}
]
},
{
"width":371.2,"height":277,
"title":{"text":"c)","anchor":"start","frame":"group","dx":-17,"offset":10,"baseline":"alphabetic","font":"Liberation Sans","fontSize":14,"fontWeight":"normal","color":"black"},
"data":{"name":"c"},
"resolve":{"axis":{"x":"independent"}},
"encoding":{
"y":{"field":"value","type":"quantitative","scale":{"domain":[-3.9,81.9],"nice":false,"zero":false},"axis":{"offset":-2.5,"values":[0,10,20,30,40,50,60,70,80],"title":"Human population","titleFontSize":14,"titleX":-35,"titleY":138.5,"titleBaseline":"alphabetic","minExtent":65.3,"maxExtent":65.3}}
},
"layer":[
{"mark":{"type":"line","strokeWidth":1.5},
"encoding":{
"x":{"field":"tick","type":"quantitative","scale":{"domain":[-55,1139],"range":[2.5,371.2],"nice":false,"zero":false},"axis":{"orient":"bottom","values":[0,200,400,600,800,1000],"format":"d","title":"Ticks","titleFontSize":14,"titleX":188.9,"titleY":34.5,"titleBaseline":"alphabetic"}},
"color":{"field":"series","type":"nominal","sort":null,"scale":{"domain":["Healthy","Infected"],"range":["#1f77b4","#ff7f0e"]},"legend":{"orient":"none","legendX":255.2,"legendY":115,"title":null,"symbolType":"M-2.5,0H2.5","symbolSize":144,"symbolOffset":9,"labelOffset":16}}
}},
{"mark":{"type":"line","opacity":0},
"encoding":{
"x":{"field":"tick","type":"quantitative","scale":{"domain":[-55,1139],"range":[2.5,371.2],"nice":false,"zero":false},"axis":{"orient":"top","labels":false,"ticks":false,"title":null,"minExtent":0,"maxExtent":0}}
}}
]
}
]
}
